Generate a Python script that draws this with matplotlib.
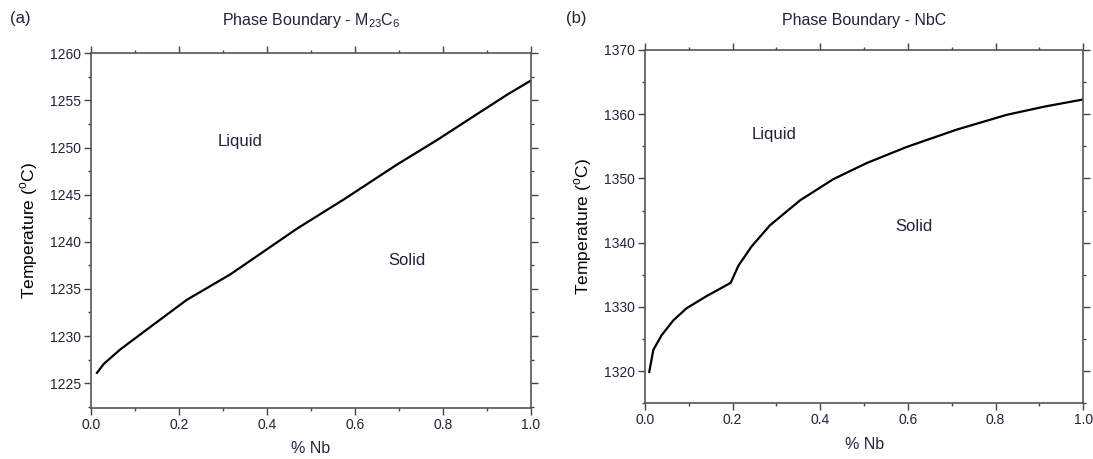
import matplotlib.pyplot as plt
from matplotlib.ticker import MultipleLocator

plt.rcParams['font.family'] = ['Liberation Sans', 'DejaVu Sans']
plt.rcParams['mathtext.fontset'] = 'custom'
plt.rcParams['mathtext.rm'] = 'Liberation Sans'

# Phase boundary - M23C6
nb_a = [0.0136, 0.029, 0.067, 0.143, 0.218, 0.317, 0.4685, 0.575, 0.696, 0.787, 0.863, 0.946, 1.0]
temp_a = [1226.1, 1227.05, 1228.6, 1231.25, 1233.85, 1236.55, 1241.4, 1244.5, 1248.2, 1250.8,
          1253.1, 1255.6, 1257.1]

# Phase boundary - NbC
nb_b = [0.0098, 0.019, 0.038, 0.0646, 0.095, 0.141, 0.1955, 0.213, 0.243, 0.285, 0.354,
        0.43, 0.506, 0.597, 0.711, 0.825, 0.9125, 1.0]
temp_b = [1319.9, 1323.3, 1325.6, 1327.9, 1329.8, 1331.7, 1333.75, 1336.4, 1339.4, 1342.7,
          1346.6, 1349.9, 1352.4, 1354.9, 1357.6, 1359.9, 1361.2, 1362.3]

fig = plt.figure(figsize=(10.93, 4.59), dpi=100)
ax_a = fig.add_axes([0.0833, 0.1118, 0.4023, 0.7721])
ax_b = fig.add_axes([0.5901, 0.1214, 0.4010, 0.7697])

panels = [
    (ax_a, nb_a, temp_a, (1222.4, 1260), 5, 2.5, r'Phase Boundary - M$_{23}$C$_6$',
     (0.34, 1250.65), (0.719, 1238.0), '(a)', 10),
    (ax_b, nb_b, temp_b, (1315, 1370), 10, 5, 'Phase Boundary - NbC',
     (0.295, 1356.8), (0.614, 1342.5), '(b)', 566),
]

txt = '#22223a'
for ax, x, y, ylim, ymaj, ymin, title, liq, sol, tag, tagx in panels:
    ax.plot(x, y, color='black', lw=1.6)
    ax.set_xlim(0, 1.0)
    ax.set_ylim(*ylim)
    ax.xaxis.set_major_locator(MultipleLocator(0.2))
    ax.xaxis.set_minor_locator(MultipleLocator(0.1))
    ax.yaxis.set_major_locator(MultipleLocator(ymaj))
    ax.yaxis.set_minor_locator(MultipleLocator(ymin))
    ax.xaxis.set_major_formatter(plt.FormatStrFormatter('%.1f'))
    ax.tick_params(which='both', direction='out', top=True, right=True,
                   labelsize=10, labelcolor=txt, color='#444444', width=1.0)
    ax.tick_params(which='major', length=4.7, pad=2.5)
    ax.tick_params(which='minor', length=2.3)
    for s in ax.spines.values():
        s.set_color('#555555')
        s.set_linewidth(1.2)
    ax.set_xlabel('% Nb', fontsize=11.5, color=txt, labelpad=7)
    ax.set_ylabel('Temperature ($^{\\rm o}$C)', fontsize=12.5, color='black', labelpad=7)
    ax.text(liq[0], liq[1], 'Liquid', fontsize=12, ha='center', va='center', color=txt)
    ax.text(sol[0], sol[1], 'Solid', fontsize=12, ha='center', va='center', color=txt)
    pos = ax.get_position()
    fig.text((pos.x0 + pos.x1) / 2, 1 - 20 / 459, title, fontsize=11.5,
             ha='center', va='center', color=txt)
    fig.text(tagx / 1093, 1 - 19 / 459, tag, fontsize=12, ha='left', va='center', color=txt)

fig.savefig('out.png', dpi=100)
